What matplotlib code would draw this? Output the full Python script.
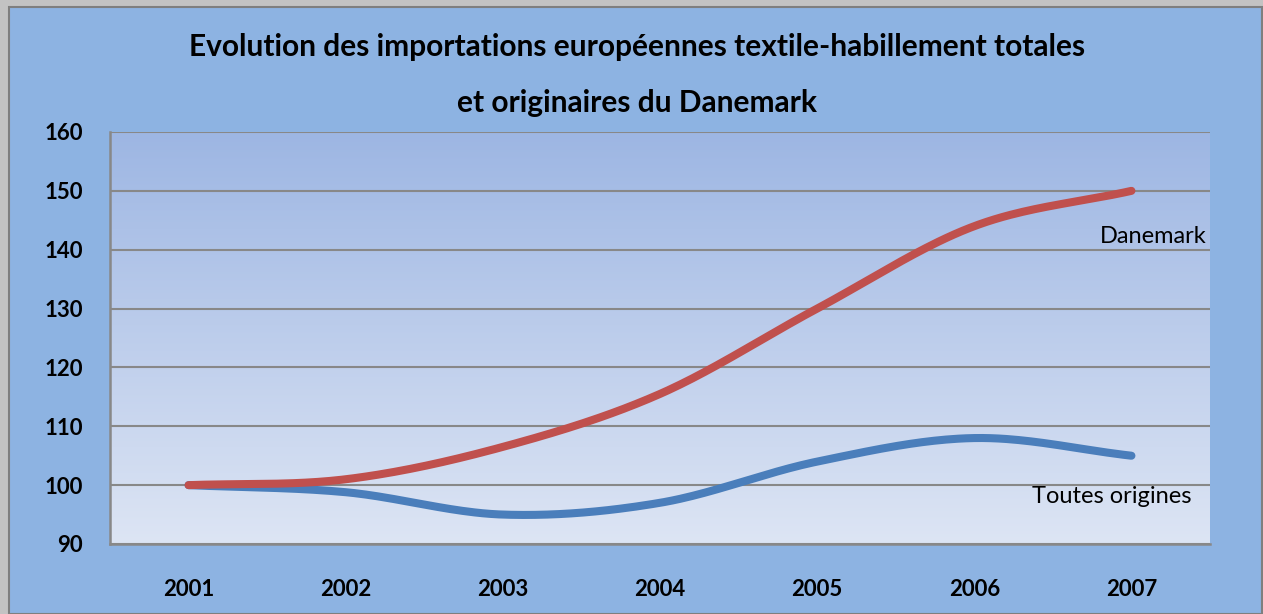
import numpy as np
import matplotlib
matplotlib.use("Agg")
import matplotlib.pyplot as plt
from matplotlib.patches import Rectangle
from matplotlib.colors import LinearSegmentedColormap

years = ["2001", "2002", "2003", "2004", "2005", "2006", "2007"]
danemark = [100, 101, 106.5, 115.5, 130, 144, 150]
toutes = [100, 98.8, 95, 97, 104, 108, 105]
yticks = [90, 100, 110, 120, 130, 140, 150, 160]

FONT = ["Lato", "DejaVu Sans"]
W, H = 1263, 614
fig = plt.figure(figsize=(W / 100, H / 100), dpi=100)
fig.patch.set_facecolor("#C3C3C3")
bg = Rectangle((9 / W, 0), (1262 - 9) / W, (614 - 7) / H,
               transform=fig.transFigure, facecolor="#8DB3E2",
               edgecolor="#7F7F7F", linewidth=1.5, zorder=-10)
fig.add_artist(bg)

L, R, T, B = 110, 1210, 132, 544
ax = fig.add_axes([L / W, 1 - B / H, (R - L) / W, (B - T) / H])
ax.set_zorder(5)
ax.set_xlim(-0.5, 6.5)
ax.set_ylim(90, 160)

grad = np.linspace(0, 1, 256).reshape(-1, 1)
cmap = LinearSegmentedColormap.from_list("g", ["#DDE5F4", "#9DB6E3"])
ax.imshow(grad, extent=[-0.5, 6.5, 90, 160], origin="lower", aspect="auto",
          cmap=cmap, zorder=0)

for y in yticks:
    ax.axhline(y, color="#888888", lw=1.5, zorder=1)

def catmull(xs, ys, n=40):
    xs = np.asarray(xs, float); ys = np.asarray(ys, float)
    px = np.concatenate([[2 * xs[0] - xs[1]], xs, [2 * xs[-1] - xs[-2]]])
    py = np.concatenate([[2 * ys[0] - ys[1]], ys, [2 * ys[-1] - ys[-2]]])
    outx, outy = [], []
    for i in range(1, len(px) - 2):
        t = np.linspace(0, 1, n)
        p0, p1, p2, p3 = px[i-1:i+3]
        q0, q1, q2, q3 = py[i-1:i+3]
        k = 1 / 6
        b1x, b1y = p1 + k * (p2 - p0), q1 + k * (q2 - q0)
        b2x, b2y = p2 - k * (p3 - p1), q2 - k * (q3 - q1)
        bx = (1-t)**3*p1 + 3*(1-t)**2*t*b1x + 3*(1-t)*t**2*b2x + t**3*p2
        by = (1-t)**3*q1 + 3*(1-t)**2*t*b1y + 3*(1-t)*t**2*b2y + t**3*q2
        outx.append(bx); outy.append(by)
    return np.concatenate(outx), np.concatenate(outy)

x = np.arange(len(years))
sx, sy = catmull(x, toutes)
ax.plot(sx, sy, color="#4A7EBB", lw=5.8, solid_capstyle="round", zorder=3)
sx, sy = catmull(x, danemark)
ax.plot(sx, sy, color="#C0504D", lw=5.8, solid_capstyle="round", zorder=4)

ax.set_xticks(x)
ax.set_xticklabels(years, fontsize=16, fontweight="bold", family=FONT)
ax.set_yticks(yticks)
ax.set_yticklabels([str(v) for v in yticks], fontsize=16, fontweight="bold", family=FONT)
ax.tick_params(length=0)
ax.tick_params(axis="x", pad=25)
ax.tick_params(axis="y", pad=19.5)
for s in ["top", "right"]:
    ax.spines[s].set_visible(False)
for s in ["left", "bottom"]:
    ax.spines[s].set_color("#888888")
    ax.spines[s].set_linewidth(1.8)

ax.text(6.48, 142.3, "Danemark", fontsize=17, family=FONT, ha="right", va="center", zorder=5)
ax.text(6.385, 98.0, "Toutes origines", fontsize=17, family=FONT, ha="right", va="center", zorder=5)

fig.text(637 / W, 1 - 47 / H, "Evolution des importations européennes textile-habillement totales",
         fontsize=21.5, fontweight="bold", family=FONT, ha="center", va="center")
fig.text(637 / W, 1 - 103 / H, "et originaires du Danemark",
         fontsize=21.5, fontweight="bold", family=FONT, ha="center", va="center")

fig.savefig("out.png", dpi=100, facecolor=fig.get_facecolor())
